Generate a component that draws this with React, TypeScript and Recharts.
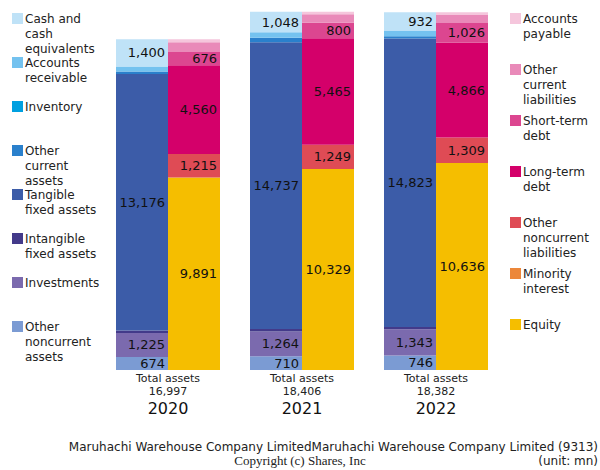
import React from 'react';
import { BarChart, Bar, XAxis, YAxis, LabelList } from 'recharts';

const years = ['2020', '2021', '2022'];
const totalAssets = [16997, 18406, 18382];

// assets, bottom to top
const otherNoncurrentAssets = [674, 710, 746];
const investments = [1225, 1264, 1343];
const intangibleFixedAssets = [132, 137, 118];
const tangibleFixedAssets = [13176, 14737, 14823];
const otherCurrentAssets = [135, 230, 120];
const inventory = [0, 0, 0];
const accountsReceivable = [255, 280, 300];
const cashAndEquivalents = [1400, 1048, 932];

// liabilities and equity, bottom to top
const equity = [9891, 10329, 10636];
const minorityInterest = [0, 0, 0];
const otherNoncurrentLiabilities = [1215, 1249, 1309];
const longTermDebt = [4560, 5465, 4866];
const shortTermDebt = [676, 800, 1026];
const otherCurrentLiabilities = [505, 443, 405];
const accountsPayable = [150, 120, 140];

const data = years.map((year, i) => ({
  year,
  total: totalAssets[i],
  otherNoncurrentAssets: otherNoncurrentAssets[i],
  investments: investments[i],
  intangibleFixedAssets: intangibleFixedAssets[i],
  tangibleFixedAssets: tangibleFixedAssets[i],
  otherCurrentAssets: otherCurrentAssets[i],
  inventory: inventory[i],
  accountsReceivable: accountsReceivable[i],
  cashAndEquivalents: cashAndEquivalents[i],
  equity: equity[i],
  minorityInterest: minorityInterest[i],
  otherNoncurrentLiabilities: otherNoncurrentLiabilities[i],
  longTermDebt: longTermDebt[i],
  shortTermDebt: shortTermDebt[i],
  otherCurrentLiabilities: otherCurrentLiabilities[i],
  accountsPayable: accountsPayable[i],
}));

const assetSeries = [
  { key: 'otherNoncurrentAssets', name: 'Other noncurrent assets', color: '#7b9bd3' },
  { key: 'investments', name: 'Investments', color: '#7b6aae' },
  { key: 'intangibleFixedAssets', name: 'Intangible fixed assets', color: '#433a8a' },
  { key: 'tangibleFixedAssets', name: 'Tangible fixed assets', color: '#3c5ca8' },
  { key: 'otherCurrentAssets', name: 'Other current assets', color: '#2a80cc' },
  { key: 'inventory', name: 'Inventory', color: '#00a0e0' },
  { key: 'accountsReceivable', name: 'Accounts receivable', color: '#74c2ef' },
  { key: 'cashAndEquivalents', name: 'Cash and cash equivalents', color: '#bfe2f7' },
];

const liabilitySeries = [
  { key: 'equity', name: 'Equity', color: '#f5be00' },
  { key: 'minorityInterest', name: 'Minority interest', color: '#ec873a' },
  { key: 'otherNoncurrentLiabilities', name: 'Other noncurrent liabilities', color: '#df4b55' },
  { key: 'longTermDebt', name: 'Long-term debt', color: '#d4006a' },
  { key: 'shortTermDebt', name: 'Short-term debt', color: '#dc4690' },
  { key: 'otherCurrentLiabilities', name: 'Other current liabilities', color: '#e98ab9' },
  { key: 'accountsPayable', name: 'Accounts payable', color: '#f5c6dc' },
];

const font = '"DejaVu Sans", sans-serif';

const renderLabel = (props: any) => {
  const { x, y, width, height, value } = props;
  if (!value || value < 600) return null;
  return (
    <text
      x={x + width - 3}
      y={y + height / 2}
      textAnchor="end"
      dominantBaseline="central"
      fontSize={13}
      fontFamily={font}
      fill="#111"
    >
      {value.toLocaleString('en-US')}
    </text>
  );
};

const YearTick = (props: any) => {
  const { x, y, payload, index } = props;
  const total = totalAssets[index] ?? totalAssets[years.indexOf(payload.value)];
  return (
    <g fontFamily={font} fill="#222">
      <text x={x} y={y + 4} textAnchor="middle" fontSize={11} fill="#222">Total assets</text>
      <text x={x} y={y + 17} textAnchor="middle" fontSize={11} fill="#222">{total.toLocaleString('en-US')}</text>
      <text x={x} y={y + 36} textAnchor="middle" fontSize={16} fill="#111">{payload.value}</text>
    </g>
  );
};

const LegendItem = ({ color, name, x, y, w }: { color: string; name: string; x: number; y: number; w: number }) => (
  <div style={{ position: 'absolute', left: x, top: y, display: 'flex', alignItems: 'flex-start' }}>
    <div style={{ width: 11, height: 11, background: color, marginTop: 1, marginRight: 2, flexShrink: 0 }} />
    <div style={{ width: w, fontSize: 12, lineHeight: '15px', color: '#222', fontFamily: font }}>{name}</div>
  </div>
);

const leftLegend = [...assetSeries].reverse();
const rightLegend = [...liabilitySeries].reverse();

export default function App() {
  return (
    <div style={{ position: 'absolute', left: 0, top: 0, width: 600, height: 470, background: '#fff' }}>
      <BarChart
        width={600}
        height={470}
        data={data}
        margin={{ top: 10, right: 97, bottom: 50, left: 101 }}
        barGap={0}
        barSize={52}
      >
        <XAxis dataKey="year" axisLine={false} tickLine={false} tick={<YearTick />} height={50} interval={0} />
        <YAxis hide domain={[0, 18500]} allowDataOverflow />
        {assetSeries.map((s) => (
          <Bar key={s.key} dataKey={s.key} stackId="a" fill={s.color} isAnimationActive={false}>
            <LabelList dataKey={s.key} content={renderLabel} />
          </Bar>
        ))}
        {liabilitySeries.map((s) => (
          <Bar key={s.key} dataKey={s.key} stackId="b" fill={s.color} isAnimationActive={false}>
            <LabelList dataKey={s.key} content={renderLabel} />
          </Bar>
        ))}
      </BarChart>
      {leftLegend.map((s, i) => (
        <LegendItem key={s.key} color={s.color} name={s.name} x={12} y={12 + i * 44} w={76} />
      ))}
      {rightLegend.map((s, i) => (
        <LegendItem key={s.key} color={s.color} name={s.name} x={510} y={12 + i * 51} w={76} />
      ))}
      <div style={{ position: 'absolute', right: 2, top: 440, fontSize: 12, fontFamily: font, color: '#222', whiteSpace: 'nowrap' }}>
        Maruhachi Warehouse Company LimitedMaruhachi Warehouse Company Limited (9313)
      </div>
      <div style={{ position: 'absolute', left: 0, width: 600, top: 453, textAlign: 'center', fontSize: 13, fontFamily: '"Liberation Serif", serif', color: '#222' }}>
        Copyright (c) Shares, Inc
      </div>
      <div style={{ position: 'absolute', right: 2, top: 454, fontSize: 12, fontFamily: font, color: '#222' }}>
        (unit: mn)
      </div>
    </div>
  );
}
